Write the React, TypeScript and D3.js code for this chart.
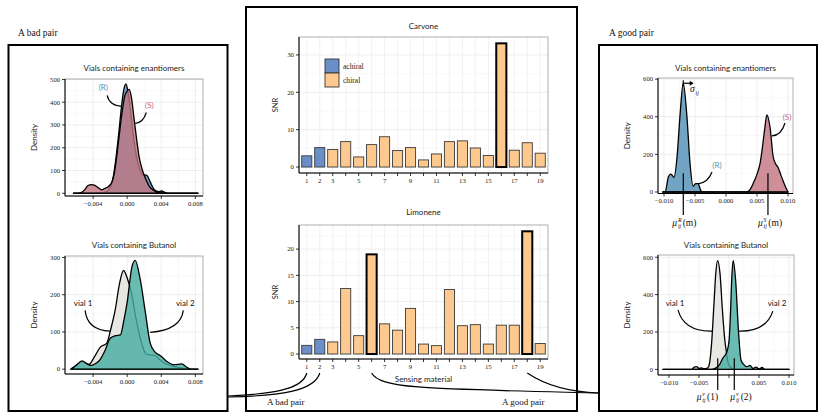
import React from "react";
import * as d3 from "d3";

// ---------------- data ----------------
const materials = [1, 2, 3, 4, 5, 6, 7, 8, 9, 10, 11, 12, 13, 14, 15, 16, 17, 18, 19];
const materialTickLabels = [1, 2, 3, 5, 7, 9, 11, 13, 15, 17, 19];
const materialType = [
  "achiral", "achiral", "chiral", "chiral", "chiral", "chiral", "chiral", "chiral", "chiral", "chiral",
  "chiral", "chiral", "chiral", "chiral", "chiral", "chiral", "chiral", "chiral", "chiral",
];
const carvoneSNR = [3.0, 5.2, 4.7, 6.8, 2.7, 6.0, 8.1, 4.4, 5.2, 1.9, 3.5, 6.8, 7.0, 5.1, 3.1, 33.1, 4.5, 6.5, 3.7];
const limoneneSNR = [1.65, 2.8, 2.3, 12.5, 3.5, 19.0, 5.75, 4.55, 8.7, 1.9, 1.6, 12.3, 5.4, 5.6, 1.9, 5.5, 5.5, 23.4, 2.0];
const carvoneHighlighted = [16];
const limoneneHighlighted = [6, 18];
const carvoneYTicks = [0, 10, 20, 30];
const limoneneYTicks = [0, 5, 10, 15, 20];
const legendItems = ["achiral", "chiral"];

type Pt = [number, number];

// A bad pair: enantiomers
const badEnantioR: Pt[] = [
  [-0.0063, 0], [-0.005, 0], [-0.004, 1], [-0.003, 2], [-0.0025, 6], [-0.002, 25], [-0.0016, 80],
  [-0.0013, 160], [-0.001, 260], [-0.0007, 370], [-0.0004, 455], [-0.00015, 481], [0.0001, 445],
  [0.0004, 360], [0.0007, 260], [0.001, 180], [0.0014, 115], [0.0018, 82], [0.0023, 79], [0.0027, 50],
  [0.0032, 15], [0.0037, 7], [0.004, 10], [0.0045, 3], [0.005, 0], [0.0083, 0],
];
const badEnantioS: Pt[] = [
  [-0.0063, 0], [-0.0055, 2], [-0.005, 15], [-0.0046, 34], [-0.0042, 38], [-0.0038, 35], [-0.0034, 24],
  [-0.003, 15], [-0.0026, 22], [-0.0022, 30], [-0.0018, 48], [-0.0015, 90], [-0.0012, 170], [-0.0009, 265],
  [-0.0006, 355], [-0.0003, 425], [0.0, 450], [0.00024, 456], [0.0005, 420], [0.0008, 330], [0.0011, 240],
  [0.0014, 160], [0.0018, 100], [0.0022, 60], [0.0026, 30], [0.003, 15], [0.0035, 5], [0.004, 2],
  [0.0045, 0], [0.0083, 0],
];
// A bad pair: butanol
const badButanol1: Pt[] = [
  [-0.0066, 0], [-0.006, 10], [-0.0053, 20], [-0.0045, 13], [-0.0038, 35], [-0.0032, 58], [-0.0024, 70],
  [-0.0019, 110], [-0.0014, 160], [-0.0009, 230], [-0.00043, 265], [0.0, 245], [0.00055, 200],
  [0.001, 140], [0.0015, 87], [0.0019, 55], [0.0023, 40], [0.0028, 38], [0.0033, 36], [0.004, 22],
  [0.005, 10], [0.006, 5], [0.0072, 0], [0.0083, 0],
];
const badButanol2: Pt[] = [
  [-0.0066, 0], [-0.006, 10], [-0.0053, 22], [-0.0047, 14], [-0.0042, 10], [-0.0037, 15], [-0.0032, 25],
  [-0.0026, 50], [-0.002, 83], [-0.0014, 90], [-0.0008, 92], [-0.0004, 130], [0.0, 180], [0.00055, 274],
  [0.00094, 292], [0.0015, 245], [0.0021, 158], [0.0027, 70], [0.0033, 45], [0.0039, 36], [0.0047, 20],
  [0.0055, 12], [0.0064, 14], [0.007, 5], [0.0075, 0], [0.0083, 0],
];
// A good pair: enantiomers
const goodEnantioR: Pt[] = [
  [-0.0102, 0], [-0.0098, 2], [-0.0093, 80], [-0.0089, 95], [-0.0084, 78], [-0.0079, 185], [-0.0074, 415],
  [-0.0069, 578], [-0.0063, 400], [-0.0058, 150], [-0.0053, 30], [-0.0049, 45], [-0.0045, 45],
  [-0.0041, 10], [-0.0038, 0], [0.01, 0],
];
const goodEnantioS: Pt[] = [
  [-0.0102, 0], [0.0032, 0], [0.0038, 10], [0.0044, 46], [0.005, 95], [0.0055, 152], [0.006, 270],
  [0.0063, 350], [0.0066, 410], [0.0071, 345], [0.0076, 190], [0.008, 150], [0.0084, 130], [0.0088, 95],
  [0.0092, 60], [0.0097, 20], [0.01, 0],
];
// A good pair: butanol
const goodButanol1: Pt[] = [
  [-0.011, 0], [-0.0062, 0], [-0.0058, 12], [-0.0054, 15], [-0.005, 5], [-0.0046, 8], [-0.0042, 4],
  [-0.0037, 6], [-0.0034, 14], [-0.0029, 139], [-0.0025, 353], [-0.0022, 514], [-0.0019, 582],
  [-0.0015, 514], [-0.0011, 318], [-0.0007, 157], [-0.0004, 86], [-0.0001, 30], [0.0005, 5], [0.001, 0],
  [0.01, 0],
];
const goodButanol2: Pt[] = [
  [-0.011, 0], [-0.003, 0], [-0.0023, 5], [-0.0015, 30], [-0.001, 62], [-0.0004, 90], [0.0, 150],
  [0.0002, 263], [0.0005, 514], [0.0007, 582], [0.0011, 478], [0.0016, 193], [0.002, 50], [0.0024, 28],
  [0.003, 15], [0.0035, 22], [0.004, 5], [0.0045, 12], [0.005, 3], [0.0055, 10], [0.006, 0], [0.01, 0],
];

const badXTicks = [-0.004, 0, 0.004, 0.008];
const goodXTicks = [-0.01, -0.005, 0, 0.005, 0.01];
const badEnantioYTicks = [0, 100, 200, 300, 400, 500];
const badButanolYTicks = [0, 100, 200, 300];
const goodYTicks = [0, 200, 400, 600];

// ---------------- styles ----------------
const SANS = "Lato, 'Open Sans', 'Noto Sans', sans-serif";
const SERIF = "'Liberation Serif', 'DejaVu Serif', serif";
const typeColor: Record<string, string> = { achiral: "#6a8ec7", chiral: "#fdc98e" };
const colR = "#4f8db5";
const colS = "#c27380";
const colVial1 = "#e7e4e1";
const colVial2 = "#47ada1";
const fmt3 = d3.format(".3f");

type Box = { l: number; r: number; t: number; b: number };
type Series = { data: Pt[]; fill: string; opacity: number };
type Scale = d3.ScaleLinear<number, number>;

function minorOf(ticks: number[], dom: [number, number]) {
  const step = ticks[1] - ticks[0];
  const out = [ticks[0] - step / 2, ...ticks.map((t) => t + step / 2)];
  return out.filter((v) => v > Math.min(...dom) && v < Math.max(...dom));
}

function DensityPanel(props: {
  box: Box;
  xDomain: [number, number];
  yDomain: [number, number];
  xTicks: number[];
  yTicks: number[];
  hiddenXLabels?: number[];
  series: Series[];
  title: string;
  titleY: number;
  yLabelX: number;
  annot?: (sx: Scale, sy: Scale) => React.ReactNode;
}) {
  const { box, xDomain, yDomain, xTicks, yTicks, series, title, titleY, yLabelX } = props;
  const hidden = props.hiddenXLabels || [];
  const sx = d3.scaleLinear().domain(xDomain).range([box.l, box.r]);
  const sy = d3.scaleLinear().domain(yDomain).range([box.b, box.t]);
  const area = d3
    .area<Pt>()
    .x((d) => sx(d[0]))
    .y0(sy(0))
    .y1((d) => sy(d[1]))
    .curve(d3.curveMonotoneX);
  const xMinor = minorOf(xTicks, xDomain);
  const yMinor = minorOf(yTicks, yDomain);
  const cx = (box.l + box.r) / 2;
  return (
    <g>
      <rect x={box.l} y={box.t} width={box.r - box.l} height={box.b - box.t} fill="#fff" />
      {xMinor.map((v, i) => (
        <line key={"xm" + i} x1={sx(v)} x2={sx(v)} y1={box.t} y2={box.b} stroke="#f4f4f4" strokeWidth={0.6} />
      ))}
      {yMinor.map((v, i) => (
        <line key={"ym" + i} x1={box.l} x2={box.r} y1={sy(v)} y2={sy(v)} stroke="#f4f4f4" strokeWidth={0.6} />
      ))}
      {xTicks.map((v, i) => (
        <line key={"xg" + i} x1={sx(v)} x2={sx(v)} y1={box.t} y2={box.b} stroke="#e6e6e6" strokeWidth={0.7} />
      ))}
      {yTicks.map((v, i) => (
        <line key={"yg" + i} x1={box.l} x2={box.r} y1={sy(v)} y2={sy(v)} stroke="#e6e6e6" strokeWidth={0.7} />
      ))}
      {series.map((s, i) => (
        <path
          key={"s" + i}
          d={area(s.data) || ""}
          fill={s.fill}
          fillOpacity={s.opacity}
          stroke="#000"
          strokeWidth={1.3}
          strokeLinejoin="round"
        />
      ))}
      <rect x={box.l} y={box.t} width={box.r - box.l} height={box.b - box.t} fill="none" stroke="#9c9c9c" strokeWidth={0.8} />
      <line x1={box.l} x2={box.r} y1={box.b} y2={box.b} stroke="#000" strokeWidth={1} />
      <line x1={box.l} x2={box.l} y1={box.t} y2={box.b} stroke="#000" strokeWidth={1} />
      {xTicks.map((v, i) => (
        <g key={"xt" + i}>
          <line x1={sx(v)} x2={sx(v)} y1={box.b} y2={box.b + 3} stroke="#000" strokeWidth={0.8} />
          {hidden.indexOf(v) < 0 && (
            <text x={sx(v)} y={box.b + 9.8} textAnchor="middle" fontFamily={SERIF} fontSize={6.6} fill="#222">
              {fmt3(v)}
            </text>
          )}
        </g>
      ))}
      {yTicks.map((v, i) => (
        <g key={"yt" + i}>
          <line x1={box.l - 3} x2={box.l} y1={sy(v)} y2={sy(v)} stroke="#000" strokeWidth={0.8} />
          <text x={box.l - 5} y={sy(v) + 2.3} textAnchor="end" fontFamily={SERIF} fontSize={6.6} fill="#222">
            {v}
          </text>
        </g>
      ))}
      <text x={cx} y={titleY} textAnchor="middle" fontFamily={SANS} fontSize={8} fill="#222">
        {title}
      </text>
      <text
        transform={`translate(${yLabelX},${(box.t + box.b) / 2}) rotate(-90)`}
        textAnchor="middle"
        dominantBaseline="central"
        fontFamily={SANS}
        fontSize={8}
        fill="#222"
      >
        Density
      </text>
      {props.annot && props.annot(sx, sy)}
    </g>
  );
}

function BarPanel(props: {
  box: Box;
  values: number[];
  yDomain: [number, number];
  yTicks: number[];
  highlighted: number[];
  title: string;
  titleY: number;
  legend?: boolean;
  xLabel?: string;
}) {
  const { box, values, yDomain, yTicks, highlighted, title, titleY } = props;
  const sx = d3.scaleLinear().domain([0.4, 19.6]).range([box.l, box.r]);
  const sy = d3.scaleLinear().domain(yDomain).range([box.b, box.t]);
  const half = 0.39;
  const yMinor = minorOf(yTicks, yDomain);
  const cx = (box.l + box.r) / 2;
  return (
    <g>
      <rect x={box.l} y={box.t} width={box.r - box.l} height={box.b - box.t} fill="#fff" />
      {yMinor.map((v, i) => (
        <line key={"ym" + i} x1={box.l} x2={box.r} y1={sy(v)} y2={sy(v)} stroke="#f4f4f4" strokeWidth={0.6} />
      ))}
      {yTicks.map((v, i) => (
        <line key={"yg" + i} x1={box.l} x2={box.r} y1={sy(v)} y2={sy(v)} stroke="#e6e6e6" strokeWidth={0.7} />
      ))}
      {materials.map((m) => (
        <line key={"xg" + m} x1={sx(m)} x2={sx(m)} y1={box.t} y2={box.b} stroke="#ececec" strokeWidth={0.7} />
      ))}
      {materials.map((m, i) => {
        const hl = highlighted.indexOf(m) >= 0;
        return (
          <rect
            key={"b" + m}
            x={sx(m - half)}
            width={sx(m + half) - sx(m - half)}
            y={sy(values[i])}
            height={sy(0) - sy(values[i])}
            fill={typeColor[materialType[i]]}
            stroke={hl ? "#000" : "#3a3a3a"}
            strokeWidth={hl ? 2 : 0.9}
          />
        );
      })}
      <rect x={box.l} y={box.t} width={box.r - box.l} height={box.b - box.t} fill="none" stroke="#9c9c9c" strokeWidth={0.8} />
      <line x1={box.l} x2={box.r} y1={box.b} y2={box.b} stroke="#000" strokeWidth={1} />
      <line x1={box.l} x2={box.l} y1={box.t} y2={box.b} stroke="#000" strokeWidth={1} />
      {materials.map((m) => (
        <line key={"xt" + m} x1={sx(m)} x2={sx(m)} y1={box.b} y2={box.b + 3} stroke="#000" strokeWidth={0.8} />
      ))}
      {materialTickLabels.map((m) => (
        <text key={"xl" + m} x={sx(m)} y={box.b + 10} textAnchor="middle" fontFamily={SERIF} fontSize={6.8} fill="#222">
          {m}
        </text>
      ))}
      {yTicks.map((v, i) => (
        <g key={"yt" + i}>
          <line x1={box.l - 3} x2={box.l} y1={sy(v)} y2={sy(v)} stroke="#000" strokeWidth={0.8} />
          <text x={box.l - 5} y={sy(v) + 2.3} textAnchor="end" fontFamily={SERIF} fontSize={6.8} fill="#222">
            {v}
          </text>
        </g>
      ))}
      <text x={cx} y={titleY} textAnchor="middle" fontFamily={SANS} fontSize={8} fill="#222">
        {title}
      </text>
      <text
        transform={`translate(275,${(box.t + box.b) / 2}) rotate(-90)`}
        textAnchor="middle"
        dominantBaseline="central"
        fontFamily={SANS}
        fontSize={7.5}
        fill="#222"
      >
        SNR
      </text>
      {props.legend &&
        legendItems.map((k, i) => (
          <g key={"lg" + k}>
            <rect x={325} y={59 + i * 14} width={14} height={14} fill={typeColor[k]} stroke="#333" strokeWidth={0.9} />
            <text x={343} y={69 + i * 14} fontFamily={SERIF} fontSize={7.6} fill="#222">
              {k}
            </text>
          </g>
        ))}
      {props.xLabel && (
        <text x={cx} y={382} textAnchor="middle" fontFamily={SANS} fontSize={8} fill="#222">
          {props.xLabel}
        </text>
      )}
    </g>
  );
}

function Mu(props: { x: number; y: number; sup: string; arg: string }) {
  const { x, y, sup, arg } = props;
  return (
    <g fontFamily={SERIF} fill="#111">
      <text x={x} y={y} fontSize={9.5} fontStyle="italic">μ</text>
      <text x={x + 5.6} y={y - 4} fontSize={5.8} fontStyle="italic">{sup}</text>
      <text x={x + 5.6} y={y + 2.4} fontSize={5.8} fontStyle="italic">ij</text>
      <text x={x + 10.4} y={y} fontSize={9.5}>{arg}</text>
    </g>
  );
}

const curveStroke = { fill: "none", stroke: "#000", strokeWidth: 1.2 } as const;

function qpath(sx: Scale, sy: Scale, a: Pt, c: Pt, b: Pt) {
  return `M${sx(a[0])},${sy(a[1])} Q${sx(c[0])},${sy(c[1])} ${sx(b[0])},${sy(b[1])}`;
}

export default function App() {
  const limX = d3.scaleLinear().domain([0.4, 19.6]).range([299, 548]);
  const connY = 373;
  return (
    <svg
      width={822}
      height={414}
      viewBox="0 0 822 414"
      style={{ position: "absolute", left: 0, top: 0, background: "#fff" }}
    >
      <rect x={0} y={0} width={822} height={414} fill="#fff" />

      {/* headings */}
      <text x={18} y={36} fontFamily={SERIF} fontSize={9.5} fill="#111">A bad pair</text>
      <text x={609} y={36} fontFamily={SERIF} fontSize={9.5} fill="#111">A good pair</text>

      {/* boxes */}
      <rect x={8.5} y={45} width={219} height={366} fill="none" stroke="#000" strokeWidth={2} />
      <rect x={246} y={7} width={331} height={404} fill="none" stroke="#000" strokeWidth={2} />
      <rect x={599} y={45} width={218} height={366} fill="none" stroke="#000" strokeWidth={2} />

      {/* left: bad pair */}
      <DensityPanel
        box={{ l: 65, r: 203, t: 79, b: 196 }}
        xDomain={[-0.0073, 0.0089]}
        yDomain={[-12, 502]}
        xTicks={badXTicks}
        yTicks={badEnantioYTicks}
        series={[
          { data: badEnantioR, fill: colR, opacity: 0.8 },
          { data: badEnantioS, fill: colS, opacity: 0.8 },
        ]}
        title="Vials containing enantiomers"
        titleY={71}
        yLabelX={34}
        annot={(sx, sy) => (
          <g>
            <text x={sx(-0.0028)} y={sy(465) + 3} textAnchor="middle" fontFamily={SANS} fontSize={8} fill="#5a8fb5">(R)</text>
            <path d={qpath(sx, sy, [-0.00235, 430], [-0.0021, 385], [-0.0006, 382])} {...curveStroke} />
            <text x={sx(0.0026)} y={sy(386) + 3} textAnchor="middle" fontFamily={SANS} fontSize={8} fill="#c46b7b">(S)</text>
            <path d={qpath(sx, sy, [0.00224, 355], [0.0019, 311], [0.00094, 307])} {...curveStroke} />
          </g>
        )}
      />
      <DensityPanel
        box={{ l: 65, r: 203, t: 256, b: 374 }}
        xDomain={[-0.0073, 0.0089]}
        yDomain={[-13, 304]}
        xTicks={badXTicks}
        yTicks={badButanolYTicks}
        series={[
          { data: badButanol1, fill: colVial1, opacity: 0.9 },
          { data: badButanol2, fill: colVial2, opacity: 0.82 },
        ]}
        title="Vials containing Butanol"
        titleY={248}
        yLabelX={34}
        annot={(sx, sy) => (
          <g>
            <text x={sx(-0.00518)} y={sy(177) + 3} textAnchor="middle" fontFamily={SANS} fontSize={8} fill="#111">vial 1</text>
            <path d={qpath(sx, sy, [-0.00494, 158], [-0.0047, 105], [-0.002, 102])} {...curveStroke} />
            <text x={sx(0.00682)} y={sy(177) + 3} textAnchor="middle" fontFamily={SANS} fontSize={8} fill="#111">vial 2</text>
            <path d={qpath(sx, sy, [0.00659, 158], [0.0063, 105], [0.0027, 99])} {...curveStroke} />
          </g>
        )}
      />

      {/* center */}
      <BarPanel
        box={{ l: 299, r: 548, t: 37, b: 173 }}
        values={carvoneSNR}
        yDomain={[-1.6, 34.8]}
        yTicks={carvoneYTicks}
        highlighted={carvoneHighlighted}
        title="Carvone"
        titleY={29}
        legend
      />
      <BarPanel
        box={{ l: 299, r: 548, t: 225, b: 359 }}
        values={limoneneSNR}
        yDomain={[-0.95, 24.6]}
        yTicks={limoneneYTicks}
        highlighted={limoneneHighlighted}
        title="Limonene"
        titleY={215}
        xLabel="Sensing material"
      />
      <text x={267} y={405} fontFamily={SERIF} fontSize={9} fill="#111">A bad pair</text>
      <text x={502} y={405} fontFamily={SERIF} fontSize={9} fill="#111">A good pair</text>

      {/* connectors */}
      <path d={`M${limX(1)},${connY} C${limX(1) - 4},390 270,394 228,396`} {...curveStroke} />
      <path d={`M${limX(2)},${connY} C${limX(2) - 5},391 280,396 228,397`} {...curveStroke} />
      <path d={`M${limX(6)},${connY} C380,389 430,389 599,393`} {...curveStroke} />
      <path d={`M${limX(18)},${connY} C545,385 570,392 599,393`} {...curveStroke} />

      {/* right: good pair */}
      <DensityPanel
        box={{ l: 658, r: 793, t: 78, b: 193.5 }}
        xDomain={[-0.01097, 0.01081]}
        yDomain={[-8, 606]}
        xTicks={goodXTicks}
        yTicks={goodYTicks}
        series={[
          { data: goodEnantioR, fill: colR, opacity: 0.8 },
          { data: goodEnantioS, fill: colS, opacity: 0.8 },
        ]}
        title="Vials containing enantiomers"
        titleY={71}
        yLabelX={627}
        annot={(sx, sy) => (
          <g>
            <line x1={sx(-0.00689)} x2={sx(-0.00689)} y1={sy(578) - 3} y2={sy(578) + 3} stroke="#000" strokeWidth={1.2} />
            <line x1={sx(-0.00689)} x2={sx(-0.0057)} y1={sy(578)} y2={sy(578)} stroke="#000" strokeWidth={1.2} />
            <path
              d={`M${sx(-0.0057) + 3},${sy(578)} L${sx(-0.0057) - 1},${sy(578) - 2.5} L${sx(-0.0057) - 1},${sy(578) + 2.5} Z`}
              fill="#000"
            />
            <text x={sx(-0.0058)} y={sy(578) + 9} fontFamily={SERIF} fontSize={9.5} fontStyle="italic" fill="#111">σ</text>
            <text x={sx(-0.0058) + 5.5} y={sy(578) + 11.5} fontFamily={SERIF} fontSize={5.8} fontStyle="italic" fill="#111">ij</text>
            <line x1={sx(-0.00689)} x2={sx(-0.00689)} y1={sy(100)} y2={215} stroke="#000" strokeWidth={1.2} />
            <line x1={sx(0.00677)} x2={sx(0.00677)} y1={sy(100)} y2={215} stroke="#000" strokeWidth={1.2} />
            <Mu x={sx(-0.00689) - 11} y={226} sup="R" arg="(m)" />
            <Mu x={sx(0.00677) - 10} y={226} sup="S" arg="(m)" />
            <text x={sx(-0.00145)} y={sy(144) + 3} textAnchor="middle" fontFamily={SANS} fontSize={8} fill="#5a8fb5">(R)</text>
            <path d={qpath(sx, sy, [-0.00226, 106], [-0.0029, 50], [-0.0045, 43])} {...curveStroke} />
            <text x={sx(0.00984)} y={sy(399) + 3} textAnchor="middle" fontFamily={SANS} fontSize={8} fill="#c46b7b">(S)</text>
            <path d={qpath(sx, sy, [0.00952, 367], [0.0089, 300], [0.0074, 298])} {...curveStroke} />
          </g>
        )}
      />
      <DensityPanel
        box={{ l: 658, r: 794, t: 255, b: 375 }}
        xDomain={[-0.01183, 0.01083]}
        yDomain={[-30, 612]}
        xTicks={goodXTicks}
        yTicks={goodYTicks}
        hiddenXLabels={[0]}
        series={[
          { data: goodButanol1, fill: colVial1, opacity: 0.9 },
          { data: goodButanol2, fill: colVial2, opacity: 0.82 },
        ]}
        title="Vials containing Butanol"
        titleY={248}
        yLabelX={627}
        annot={(sx, sy) => (
          <g>
            <text x={sx(-0.009)} y={sy(354) + 3} textAnchor="middle" fontFamily={SANS} fontSize={8} fill="#111">vial 1</text>
            <path d={qpath(sx, sy, [-0.0085, 318], [-0.0075, 200], [-0.0027, 205])} {...curveStroke} />
            <text x={sx(0.008)} y={sy(354) + 3} textAnchor="middle" fontFamily={SANS} fontSize={8} fill="#111">vial 2</text>
            <path d={qpath(sx, sy, [0.0073, 312], [0.0062, 200], [0.0015, 205])} {...curveStroke} />
            <line x1={sx(-0.00188)} x2={sx(-0.00188)} y1={sy(60)} y2={390} stroke="#000" strokeWidth={1.2} />
            <line x1={sx(0.00088)} x2={sx(0.00088)} y1={sy(60)} y2={390} stroke="#000" strokeWidth={1.2} />
            <Mu x={sx(-0.00188) - 21} y={400} sup="v" arg="(1)" />
            <Mu x={sx(0.00088) - 4} y={400} sup="v" arg="(2)" />
          </g>
        )}
      />
    </svg>
  );
}
